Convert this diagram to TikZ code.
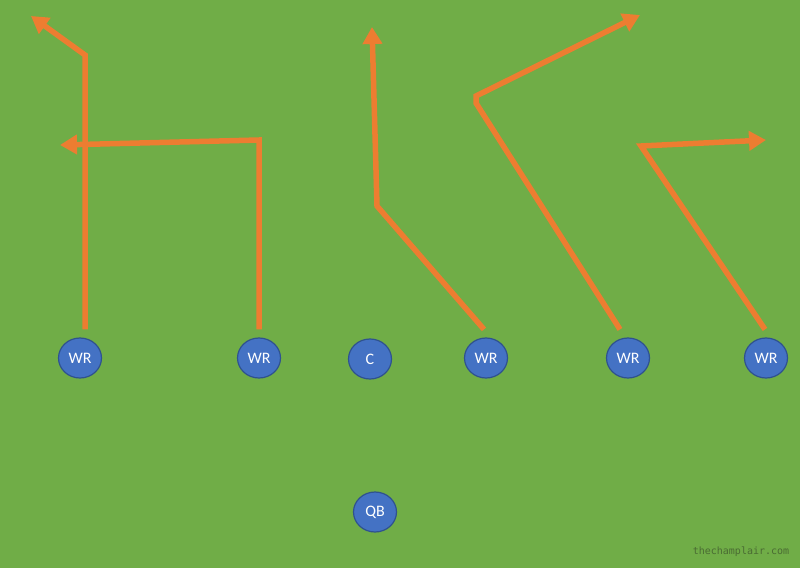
\documentclass[tikz,border=0pt]{standalone}
\usepackage{fontspec}
\setsansfont{Carlito}
\setmonofont{DejaVu Sans Mono}
\usetikzlibrary{arrows.meta,shapes.geometric}
\definecolor{field}{HTML}{70AD47}
\definecolor{playerfill}{HTML}{4472C4}
\definecolor{playerline}{HTML}{2F528F}
\definecolor{routecol}{HTML}{ED7D31}
\definecolor{wmarkcol}{HTML}{4A6B33}
\tikzset{
  player/.style={ellipse, fill=playerfill, draw=playerline, line width=1.2pt,
    minimum width=43pt, minimum height=40pt, inner sep=0pt,
    text=white, font=\sffamily\fontsize{16}{16}\selectfont},
  run/.style={draw=routecol, line width=5.5pt,
    -{Triangle[length=17pt,width=19pt]}}
}
\begin{document}
\begin{tikzpicture}[x=1pt,y=-1pt]
    % Field
    \fill[field] (0,0) rectangle (800,568);
    \useasboundingbox (0,0) rectangle (800,568);

    % Players
    \node[player] (wra) at (80,358) {WR};
    \node[player] (wrb) at (259,358) {WR};
    \node[player] (c) at (370,359) {C};
    \node[player] (wrc) at (486,358) {WR};
    \node[player] (wrd) at (628,358) {WR};
    \node[player] (wre) at (766,358) {WR};
    \node[player] (qb) at (375,512) {QB};

    % Route ends
    \coordinate (ea) at (31,16);
    \coordinate (eb) at (60,145);
    \coordinate (ec) at (372,27);
    \coordinate (ed) at (640,15);
    \coordinate (ee) at (766,140);

    % Routes
    \draw[run] ([shift={(5,-8)}]wra.north) -- (85,55) -- (ea);
    \draw[run] ([shift={(0,-8)}]wrb.north) -- (259,140) -- (eb);
    \draw[run] ([shift={(-2,-8)}]wrc.north) -- (377,206) -- (ec);
    \draw[run] ([shift={(-8,-8)}]wrd.north) -- (476,103) -- (476,96) -- (ed);
    \draw[run] ([shift={(-1,-8)}]wre.north) -- (641,146) -- (ee);

    % Watermark
    \node[text=wmarkcol, font=\ttfamily\fontsize{10}{10}\selectfont] (wm) at (741,552) {thechamplair.com};
\end{tikzpicture}
\end{document}
